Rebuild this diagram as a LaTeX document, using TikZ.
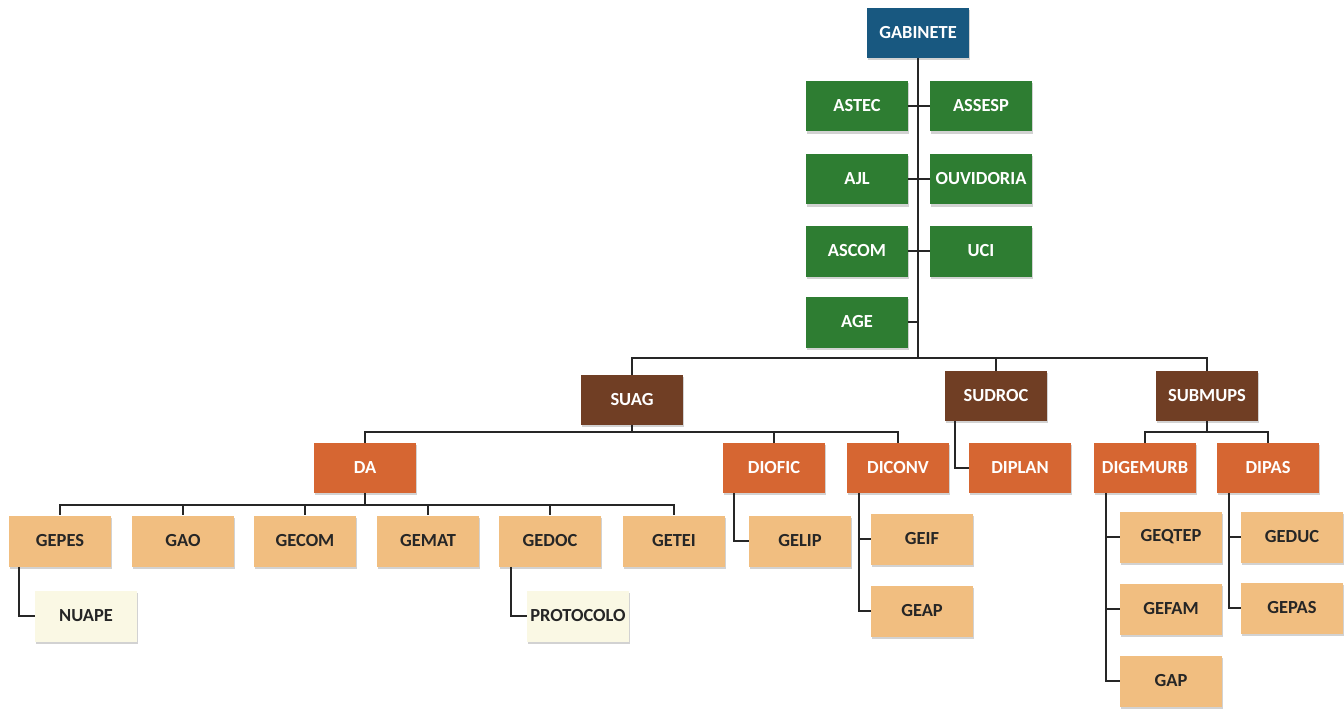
\documentclass[tikz,border=0pt]{standalone}
\usepackage{fontspec}
\setmainfont{Carlito}
\usetikzlibrary{positioning}
\usetikzlibrary{shadows}

\definecolor{gabblue}{RGB}{24,88,128}
\definecolor{advgreen}{RGB}{46,125,50}
\definecolor{subbrown}{RGB}{112,62,36}
\definecolor{dirorange}{RGB}{214,102,50}
\definecolor{gerlight}{RGB}{241,190,128}
\definecolor{nuccream}{RGB}{250,248,228}

\begin{document}
\begin{tikzpicture}[x=0.02cm, y=-0.02cm,
        unitbox/.style={rectangle, minimum width=2.04cm, minimum height=1.02cm, inner sep=1pt,
            font=\fontsize{10.5}{12}\selectfont\bfseries,
            drop shadow={shadow xshift=0.6pt, shadow yshift=-1.2pt, fill=black!35}},
        gabbox/.style={unitbox, fill=gabblue, text=white, minimum height=1cm},
        advbox/.style={unitbox, fill=advgreen, text=white},
        subbox/.style={unitbox, fill=subbrown, text=white, minimum height=1cm},
        dirbox/.style={unitbox, fill=dirorange, text=white, minimum height=1cm},
        gerbox/.style={unitbox, fill=gerlight, text=black!85},
        nucbox/.style={unitbox, fill=nuccream, text=black!85},
        link/.style={draw=black!85, line width=1.3pt}]
        \useasboundingbox (0,0) rectangle (1344,710);

        % gabinete and advisory units
        \node (gabinete) at (918,33) [gabbox] {GABINETE};
        \node (astec) at (857,106) [advbox] {ASTEC};
        \node (assesp) at (981,106) [advbox] {ASSESP};
        \node (ajl) at (857,179) [advbox] {AJL};
        \node (ouvidoria) at (981,179) [advbox] {OUVIDORIA};
        \node (ascom) at (857,251) [advbox] {ASCOM};
        \node (uci) at (981,251) [advbox] {UCI};
        \node (age) at (857,322) [advbox] {AGE};

        % secretarias
        \node (suag) at (632,400) [subbox] {SUAG};
        \node (sudroc) at (996,396) [subbox] {SUDROC};
        \node (submups) at (1207,396) [subbox] {SUBMUPS};

        % diretorias
        \node (da) at (365,468) [dirbox] {DA};
        \node (diofic) at (774,468) [dirbox] {DIOFIC};
        \node (diconv) at (898,468) [dirbox] {DICONV};
        \node (diplan) at (1020,468) [dirbox] {DIPLAN};
        \node (digemurb) at (1145,468) [dirbox] {DIGEMURB};
        \node (dipas) at (1268,468) [dirbox] {DIPAS};

        % gerencias
        \node (gepes) at (60,541) [gerbox] {GEPES};
        \node (gao) at (183,541) [gerbox] {GAO};
        \node (gecom) at (305,541) [gerbox] {GECOM};
        \node (gemat) at (428,541) [gerbox] {GEMAT};
        \node (gedoc) at (550,541) [gerbox] {GEDOC};
        \node (getei) at (674,541) [gerbox] {GETEI};
        \node (gelip) at (800,541) [gerbox] {GELIP};
        \node (geif) at (922,539) [gerbox] {GEIF};
        \node (geap) at (922,611) [gerbox] {GEAP};
        \node (geqtep) at (1171,537) [gerbox] {GEQTEP};
        \node (gefam) at (1171,609) [gerbox] {GEFAM};
        \node (gap) at (1171,681) [gerbox] {GAP};
        \node (geduc) at (1292,537) [gerbox] {GEDUC};
        \node (gepas) at (1292,608) [gerbox] {GEPAS};

        % nucleos
        \node (nuape) at (86,616) [nucbox] {NUAPE};
        \node (protocolo) at (578,616) [nucbox] {PROTOCOLO};

        % bus points
        \coordinate (bgab) at (918,358);
        \coordinate (bsuag) at (632,432);
        \coordinate (bsub) at (1207,432);
        \coordinate (bda) at (365,505);

        % connections
        \draw[link] (gabinete) -- (bgab) -| (suag);
        \draw[link] (bgab) -| (sudroc);
        \draw[link] (bgab) -| (submups);
        \draw[link] (astec) -- (assesp);
        \draw[link] (ajl) -- (ouvidoria);
        \draw[link] (ascom) -- (uci);
        \draw[link] (age) -- (age -| bgab);

        \draw[link] (suag) -- (bsuag) -| (da);
        \draw[link] (bsuag) -| (diofic);
        \draw[link] (bsuag) -| (diconv);
        \draw[link] ([xshift=0.2cm]sudroc.south west) |- (diplan);
        \draw[link] (submups) -- (bsub) -| (digemurb);
        \draw[link] (bsub) -| (dipas);

        \draw[link] (da) -- (bda);
        \foreach \g in {gepes,gao,gecom,gemat,gedoc,getei}
            \draw[link] (bda) -| (\g);
        \draw[link] ([xshift=0.2cm]gepes.south west) |- (nuape);
        \draw[link] ([xshift=0.24cm]gedoc.south west) |- (protocolo);

        \draw[link] ([xshift=0.22cm]diofic.south west) |- (gelip);
        \draw[link] ([xshift=0.24cm]diconv.south west) |- (geif);
        \draw[link] ([xshift=0.24cm]diconv.south west) |- (geap);
        \draw[link] ([xshift=0.24cm]digemurb.south west) |- (geqtep);
        \draw[link] ([xshift=0.24cm]digemurb.south west) |- (gefam);
        \draw[link] ([xshift=0.24cm]digemurb.south west) |- (gap);
        \draw[link] ([xshift=0.24cm]dipas.south west) |- (geduc);
        \draw[link] ([xshift=0.24cm]dipas.south west) |- (gepas);
\end{tikzpicture}
\end{document}
